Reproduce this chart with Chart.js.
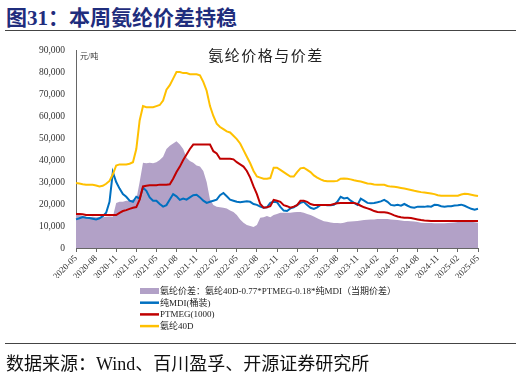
<!DOCTYPE html>
<html>
<head>
<meta charset="utf-8">
<script src="https://cdn.jsdelivr.net/npm/chart.js@4.4.1/dist/chart.umd.min.js"></script>
<style>
  body { margin: 0; width: 521px; height: 374px; background: #fff; position: relative; overflow: hidden;
         font-family: "Liberation Serif", "Noto Sans CJK SC", serif; }
  #title { position: absolute; left: 6px; top: 1px; font-size: 21px; font-weight: bold; color: #1f2d7d; white-space: nowrap; }
  .rule { position: absolute; left: 5px; width: 511px; height: 0; border-top: 1.5px solid #444; }
  #source { position: absolute; left: 6px; top: 349px; font-size: 18px; color: #111; white-space: nowrap; }
  #chartTitle { position: absolute; left: 0; width: 532px; text-align: center; top: 44px; font-size: 15px;
                letter-spacing: 1.5px; color: #222; }
  #unit { position: absolute; left: 80px; top: 50px; font-size: 8px; color: #333; }
  canvas { position: absolute; left: 0; top: 0; }
</style>
</head>
<body>
<div id="title">图31：本周氨纶价差持稳</div>
<div class="rule" style="top:30px"></div>
<canvas id="chart" width="521" height="374"></canvas>
<div id="chartTitle">氨纶价格与价差</div>
<div id="unit">元/吨</div>
<div class="rule" style="top:343px"></div>
<div id="source">数据来源：Wind、百川盈孚、开源证券研究所</div>

<script>
// half-month points, 2020-05 .. 2025-05
const startYear = 2020, startMonth = 5, pointCount = 121;
const periods = [];
for (let i = 0; i < pointCount; i++) {
  const m = startMonth - 1 + Math.floor(i / 2);
  const y = startYear + Math.floor(m / 12);
  const mm = String(m % 12 + 1).padStart(2, '0');
  periods.push(i % 2 === 0 ? `${y}-${mm}` : `${y}-${mm}-16`);
}

const seriesNames = [
  '氨纶价差：氨纶40D-0.77*PTMEG-0.18*纯MDI（当期价差）',
  '纯MDI(桶装)',
  'PTMEG(1000)',
  '氨纶40D'
];

const spreadValues = [
  15500,15000,14500,14200,14000,14200,14000,14100,14000,14200,
  14300,14200,20500,21000,21000,21500,21500,22000,22000,30000,
  38800,38500,38800,38500,39000,40000,41500,45000,46500,47500,
  48500,47000,45000,41000,39500,38800,37500,37000,35000,30000,
  22000,19500,18700,18500,18300,18000,17000,16400,15000,13000,
  11500,10500,10000,9600,10500,13700,14000,14500,14000,15000,
  15500,16000,16000,16000,16000,16200,16400,16400,16000,15500,
  15000,14300,13500,12800,12200,11900,11600,11400,11400,11300,
  11500,11900,12000,12200,12300,12500,12700,12800,13000,13000,
  13200,13200,13200,13200,13000,12800,12700,12500,12300,12300,
  12200,12000,11800,11500,11400,11400,11400,11300,11200,11300,
  11300,11400,11500,11600,11800,11900,12000,12000,11900,11700,
  11500
];

const mdiValues = [
  13000,13500,14100,13800,13600,13300,13000,13500,14500,16000,
  21000,34500,30000,27000,24500,23300,21500,21000,23300,22500,
  27500,26000,23000,21500,21500,20000,18800,19500,22000,24500,
  23500,21900,22500,22000,23000,24000,24200,23000,21500,20500,
  21000,21500,22000,24000,25000,23500,22000,21500,21000,20800,
  21000,21200,21000,20000,19600,18800,18300,18500,20500,21000,
  20800,18700,17000,16800,18000,18500,19500,20500,21000,19500,
  18300,17800,18500,19600,19600,19400,19400,19600,21000,23300,
  22500,22800,21500,20500,19600,22400,21500,20500,20300,20500,
  20800,21200,21900,21000,19600,19300,19600,19200,20000,19200,
  18500,18300,18800,18700,18700,19000,18800,19600,19500,19000,
  18800,19000,19000,19300,19400,19700,19200,18500,17800,17400,
  17800
];

const ptmegValues = [
  15500,15500,15300,15000,15000,15000,15000,15000,15000,15000,
  15000,15000,15000,16000,16800,17200,17800,18300,18600,22000,
  28000,28300,28500,28500,28500,28800,28800,28800,29000,31500,
  34500,37000,40000,42500,45000,47000,47000,47000,47000,47000,
  47000,44000,43000,40600,40600,40600,40600,40300,39000,38000,
  37000,35000,32000,28000,24500,20000,18300,18500,19000,21900,
  21500,21000,19500,19000,18300,18800,19500,21500,21500,21000,
  20000,19600,19600,19600,19600,19600,19600,20000,20300,20400,
  20500,20500,20500,20500,20000,19200,18500,18000,17500,16800,
  16400,16300,16200,16000,15500,14800,14300,14000,13800,13700,
  13600,13300,13000,12700,12500,12400,12300,12300,12300,12300,
  12300,12300,12300,12300,12300,12300,12300,12300,12300,12300,
  12300
];

const spandexValues = [
  29500,29300,29000,28800,28700,28700,28400,28000,28300,29200,
  30500,33500,37500,38000,38000,38000,38300,39000,45000,58000,
  64500,64000,64000,64000,64500,65000,67000,72000,74000,77000,
  80000,80000,79500,79500,79000,79000,79000,78500,75500,71500,
  64500,60000,56500,55000,54000,53000,52500,51000,49500,47500,
  44500,41500,38500,35000,32500,32000,31500,31500,31800,36500,
  36500,35500,34500,33500,32500,32500,34500,36200,36500,35500,
  34500,33000,32000,31200,30600,30300,30300,30300,30500,31500,
  31600,31500,31200,30800,30500,30200,29800,29300,29200,28900,
  28800,28800,28700,28200,27900,27800,27600,27300,27000,26700,
  26400,26000,25700,25400,25200,25000,24800,24500,24000,23800,
  23700,23700,23700,23700,23800,24300,24700,24500,24200,23900,
  23600
];

const yMax = 90000, yStep = 10000;

const FONT = '"Liberation Serif", "Noto Sans CJK SC", serif';
Chart.defaults.font.family = FONT;
Chart.defaults.color = '#333';

// legend stacked under the plot, like the original
const stackedLegend = {
  id: 'stackedLegend',
  afterDraw(chart) {
    const ctx = chart.ctx;
    ctx.save();
    ctx.font = '9px ' + FONT;
    ctx.textBaseline = 'middle';
    chart.data.datasets.forEach((ds, i) => {
      const y = 291 + i * 11.7;
      if (ds.fill) {
        ctx.fillStyle = ds.backgroundColor;
        ctx.fillRect(140, y - 3, 19, 6);
      } else {
        ctx.strokeStyle = ds.borderColor;
        ctx.lineWidth = 2.5;
        ctx.beginPath();
        ctx.moveTo(140, y);
        ctx.lineTo(159, y);
        ctx.stroke();
      }
      ctx.fillStyle = '#222';
      ctx.fillText(ds.label, 160, y + 0.5);
    });
    ctx.restore();
  }
};

const lineStyle = { pointRadius: 0, borderWidth: 2, tension: 0, fill: false };

new Chart(document.getElementById('chart'), {
  type: 'line',
  data: {
    labels: periods,
    datasets: [
      { label: seriesNames[0], data: spreadValues, fill: 'origin', backgroundColor: 'rgb(178,161,199)',
        borderWidth: 0, pointRadius: 0, tension: 0, order: 4 },
      { label: seriesNames[1], data: mdiValues, borderColor: 'rgb(0,112,192)', order: 3, ...lineStyle },
      { label: seriesNames[2], data: ptmegValues, borderColor: 'rgb(192,0,0)', order: 2, ...lineStyle },
      { label: seriesNames[3], data: spandexValues, borderColor: 'rgb(255,192,0)', order: 1, ...lineStyle }
    ]
  },
  options: {
    responsive: false,
    animation: false,
    layout: { padding: { left: 0, top: 50, right: 43, bottom: 96 } },
    plugins: { legend: { display: false }, tooltip: { enabled: false } },
    scales: {
      x: {
        grid: { display: true, drawOnChartArea: false, tickLength: 4, color: '#666' },
        border: { display: true, color: '#666', width: 1 },
        ticks: {
          autoSkip: false, minRotation: 45, maxRotation: 45, padding: 1,
          font: { size: 9 }, color: '#333',
          callback: function (value, index) {
            return index % 6 === 0 ? this.getLabelForValue(value) : null;
          }
        },
        afterFit: s => { s.height = 30; }
      },
      y: {
        min: 0, max: yMax,
        grid: { display: false },
        border: { display: true, color: '#666', width: 1 },
        ticks: {
          stepSize: yStep, padding: 3, font: { size: 9.5 }, color: '#333',
          callback: v => v.toLocaleString('en-US')
        },
        afterFit: s => { s.width = 76; }
      }
    }
  },
  plugins: [stackedLegend]
});
</script>
</body>
</html>
